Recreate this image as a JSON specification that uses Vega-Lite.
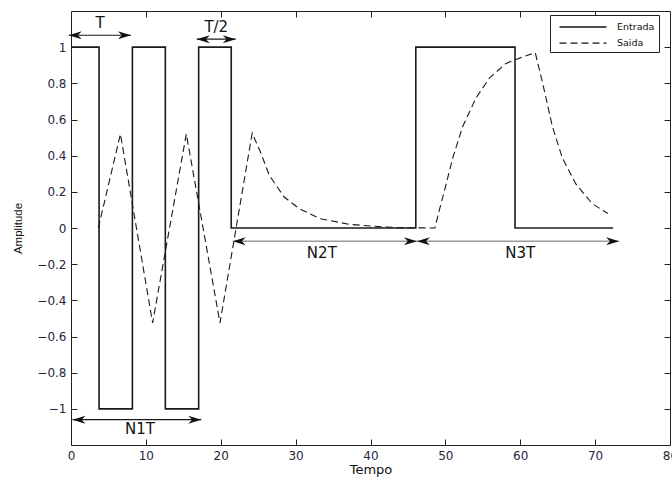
{
  "$schema": "https://vega.github.io/schema/vega-lite/v6.json",
  "width": 599,
  "height": 434,
  "autosize": {"type": "none"},
  "padding": {"left": 71, "top": 11, "right": 2, "bottom": 32},
  "background": "white",
  "config": {
    "view": {"stroke": "#222", "strokeWidth": 1},
    "font": "DejaVu Sans",
    "axis": {
      "grid": false,
      "domain": false,
      "tickColor": "#222",
      "tickSize": -6,
      "labelFont": "DejaVu Sans",
      "labelFontSize": 12,
      "labelColor": "#26263e",
      "titleFont": "Liberation Sans",
      "titleFontWeight": "normal",
      "titleColor": "#111"
    }
  },
  "datasets": {
    "signals": [
      {"series": "Entrada", "i": 0, "t": 0, "amp": 1},
      {"series": "Entrada", "i": 1, "t": 3.75, "amp": 1},
      {"series": "Entrada", "i": 2, "t": 3.75, "amp": -1},
      {"series": "Entrada", "i": 3, "t": 8.2, "amp": -1},
      {"series": "Entrada", "i": 4, "t": 8.2, "amp": 1},
      {"series": "Entrada", "i": 5, "t": 12.6, "amp": 1},
      {"series": "Entrada", "i": 6, "t": 12.6, "amp": -1},
      {"series": "Entrada", "i": 7, "t": 17.05, "amp": -1},
      {"series": "Entrada", "i": 8, "t": 17.05, "amp": 1},
      {"series": "Entrada", "i": 9, "t": 21.4, "amp": 1},
      {"series": "Entrada", "i": 10, "t": 21.4, "amp": 0},
      {"series": "Entrada", "i": 11, "t": 46.05, "amp": 0},
      {"series": "Entrada", "i": 12, "t": 46.05, "amp": 1},
      {"series": "Entrada", "i": 13, "t": 59.3, "amp": 1},
      {"series": "Entrada", "i": 14, "t": 59.3, "amp": 0},
      {"series": "Entrada", "i": 15, "t": 72.4, "amp": 0},
      {"series": "Saida", "i": 0, "t": 3.65, "amp": 0},
      {"series": "Saida", "i": 1, "t": 6.6, "amp": 0.52},
      {"series": "Saida", "i": 2, "t": 10.9, "amp": -0.525},
      {"series": "Saida", "i": 3, "t": 15.4, "amp": 0.52},
      {"series": "Saida", "i": 4, "t": 19.9, "amp": -0.525},
      {"series": "Saida", "i": 5, "t": 24.2, "amp": 0.525},
      {"series": "Saida", "i": 6, "t": 25.3, "amp": 0.42},
      {"series": "Saida", "i": 7, "t": 26.5, "amp": 0.29},
      {"series": "Saida", "i": 8, "t": 28.5, "amp": 0.17},
      {"series": "Saida", "i": 9, "t": 30.5, "amp": 0.107},
      {"series": "Saida", "i": 10, "t": 33.2, "amp": 0.052},
      {"series": "Saida", "i": 11, "t": 37.2, "amp": 0.02},
      {"series": "Saida", "i": 12, "t": 41.6, "amp": 0.006},
      {"series": "Saida", "i": 13, "t": 44, "amp": 0.002},
      {"series": "Saida", "i": 14, "t": 48.6, "amp": 0},
      {"series": "Saida", "i": 15, "t": 49.2, "amp": 0.1},
      {"series": "Saida", "i": 16, "t": 49.9, "amp": 0.21},
      {"series": "Saida", "i": 17, "t": 51, "amp": 0.39},
      {"series": "Saida", "i": 18, "t": 52.3, "amp": 0.56},
      {"series": "Saida", "i": 19, "t": 54.1, "amp": 0.72},
      {"series": "Saida", "i": 20, "t": 55.9, "amp": 0.83},
      {"series": "Saida", "i": 21, "t": 58.1, "amp": 0.91},
      {"series": "Saida", "i": 22, "t": 59.6, "amp": 0.935},
      {"series": "Saida", "i": 23, "t": 62, "amp": 0.97},
      {"series": "Saida", "i": 24, "t": 63, "amp": 0.8},
      {"series": "Saida", "i": 25, "t": 64.3, "amp": 0.56},
      {"series": "Saida", "i": 26, "t": 65.6, "amp": 0.39},
      {"series": "Saida", "i": 27, "t": 67.4, "amp": 0.245},
      {"series": "Saida", "i": 28, "t": 69.6, "amp": 0.135},
      {"series": "Saida", "i": 29, "t": 71.7, "amp": 0.08}
    ],
    "arrows": [
      {"name": "T", "start": -0.3, "end": 8.0, "level": 1.066},
      {"name": "T/2", "start": 16.8, "end": 22.0, "level": 1.044},
      {"name": "N1T", "start": 0.2, "end": 17.4, "level": -1.06},
      {"name": "N2T", "start": 21.6, "end": 46.2, "level": -0.073},
      {"name": "N3T", "start": 46.2, "end": 73.2, "level": -0.073}
    ],
    "notes": [
      {"text": "T", "tx": 3.9, "ty": 1.136},
      {"text": "T/2", "tx": 19.4, "ty": 1.114},
      {"text": "N1T", "tx": 9.2, "ty": -1.112},
      {"text": "N2T", "tx": 33.5, "ty": -0.141},
      {"text": "N3T", "tx": 60.0, "ty": -0.141}
    ]
  },
  "resolve": {"axis": {"x": "independent", "y": "independent"}},
  "layer": [
    {
      "data": {"name": "signals"},
      "mark": {"type": "line", "color": "#1a1a1a", "clip": false},
      "encoding": {
        "x": {"field": "t", "type": "quantitative", "scale": {"domain": [0, 80], "nice": false},
          "axis": {"orient": "bottom", "values": [0, 10, 20, 30, 40, 50, 60, 70, 80], "title": "Tempo", "titleFontSize": 13, "titleFont": "DejaVu Sans", "labelPadding": 11, "titlePadding": 2, "labelFlush": false}},
        "y": {"field": "amp", "type": "quantitative", "scale": {"domain": [-1.2, 1.2], "nice": false},
          "axis": {"orient": "left", "values": [-1, -0.8, -0.6, -0.4, -0.2, 0, 0.2, 0.4, 0.6, 0.8, 1], "format": "~g", "title": "Amplitude", "titleFontSize": 11.5, "labelPadding": 11, "titlePadding": 13}},
        "order": {"field": "i", "type": "quantitative"},
        "detail": {"field": "series"},
        "strokeDash": {"field": "series", "type": "nominal",
          "scale": {"domain": ["Entrada", "Saida"], "range": [[1, 0], [7, 4]]},
          "legend": {"orient": "none", "legendX": 479, "legendY": 4, "title": null,
            "strokeColor": "#222", "fillColor": "white", "padding": 4,
            "symbolType": "M-3.5,0H3.5", "symbolSize": 180, "symbolStrokeWidth": 1.3,
            "symbolStrokeColor": "#111", "symbolFillColor": "transparent", "symbolOffset": 21,
            "labelFont": "DejaVu Sans", "labelFontSize": 9.5, "labelColor": "#111",
            "labelOffset": 26, "rowPadding": 3.6, "labelLimit": 200}},
        "strokeWidth": {"field": "series", "type": "nominal",
          "scale": {"domain": ["Entrada", "Saida"], "range": [1.6, 1.1]}, "legend": null}
      }
    },
    {
      "data": {"name": "arrows"},
      "transform": [{"filter": "datum.name == 'N2T' || datum.name == 'N3T'"}],
      "mark": {"type": "rule", "color": "#9a9a9a", "strokeWidth": 1.6, "clip": false},
      "encoding": {
        "x": {"field": "start", "type": "quantitative", "axis": {"orient": "top", "values": [10, 20, 30, 40, 50, 60, 70], "labels": false, "title": null}},
        "x2": {"field": "end"},
        "y": {"field": "level", "type": "quantitative", "axis": {"orient": "right", "values": [-1, -0.8, -0.6, -0.4, -0.2, 0, 0.2, 0.4, 0.6, 0.8, 1], "labels": false, "title": null}}
      }
    },
    {
      "data": {"name": "arrows"},
      "transform": [{"filter": "datum.name != 'N2T' && datum.name != 'N3T'"}],
      "mark": {"type": "rule", "color": "#1a1a1a", "strokeWidth": 1.2, "clip": false},
      "encoding": {
        "x": {"field": "start", "type": "quantitative", "axis": null},
        "x2": {"field": "end"},
        "y": {"field": "level", "type": "quantitative", "axis": null}
      }
    },
    {
      "data": {"name": "arrows"},
      "mark": {"type": "point", "shape": "M0,0L2,-0.62L1.4,0L2,0.62Z", "filled": true, "color": "#111", "opacity": 1, "size": 169, "clip": false},
      "encoding": {
        "x": {"field": "start", "type": "quantitative", "axis": null},
        "y": {"field": "level", "type": "quantitative", "axis": null}
      }
    },
    {
      "data": {"name": "arrows"},
      "mark": {"type": "point", "shape": "M0,0L-2,-0.62L-1.4,0L-2,0.62Z", "filled": true, "color": "#111", "opacity": 1, "size": 169, "clip": false},
      "encoding": {
        "x": {"field": "end", "type": "quantitative", "axis": null},
        "y": {"field": "level", "type": "quantitative", "axis": null}
      }
    },
    {
      "data": {"name": "notes"},
      "mark": {"type": "text", "font": "DejaVu Sans", "fontSize": 15, "color": "#111", "align": "center", "baseline": "middle", "clip": false},
      "encoding": {
        "x": {"field": "tx", "type": "quantitative", "axis": null},
        "y": {"field": "ty", "type": "quantitative", "axis": null},
        "text": {"field": "text"}
      }
    }
  ]
}
